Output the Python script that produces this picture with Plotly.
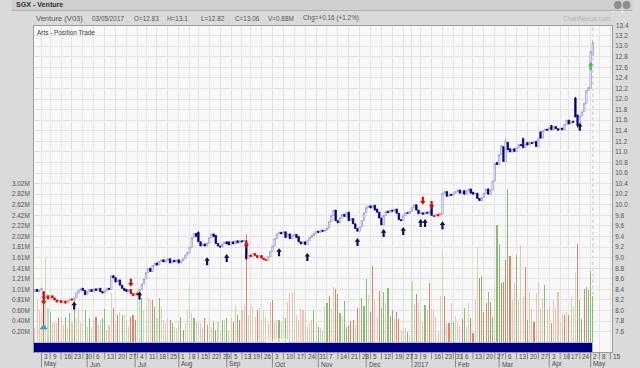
import plotly.graph_objects as go
import pandas as pd

# ---------------- data ----------------
holidays = ["2016-05-02", "2016-07-06", "2016-08-09", "2016-09-12", "2016-12-26",
            "2017-01-02", "2017-01-30", "2017-04-14", "2017-05-01"]

opens = [
    8.36, 8.40, 8.36, 8.39, 8.36, 8.24, 8.28, 8.22, 8.28, 8.24,
    8.20, 8.16, 8.19, 8.15, 8.18, 8.14, 8.19, 8.22, 8.20, 8.24,
    8.33, 8.38, 8.42, 8.38, 8.30, 8.36, 8.40, 8.36, 8.41, 8.38,
    8.42, 8.36, 8.33, 8.38, 8.42, 8.40, 8.66, 8.62, 8.54, 8.58,
    8.48, 8.42, 8.40, 8.36, 8.40, 8.32, 8.28, 8.33, 8.30, 8.40,
    8.50, 8.60, 8.72, 8.80, 8.74, 8.85, 8.90, 8.86, 8.93, 8.96,
    8.92, 8.95, 8.98, 8.90, 8.95, 8.92, 8.96, 8.90, 8.94, 8.98,
    9.05, 9.10, 9.20, 9.38, 9.46, 9.48, 9.30, 9.22, 9.26, 9.22,
    9.28, 9.38, 9.45, 9.42, 9.27, 9.22, 9.20, 9.26, 9.30, 9.30,
    9.24, 9.30, 9.26, 9.32, 9.28, 9.32, 9.30, 9.28, 8.98, 9.05,
    9.02, 9.08, 9.04, 9.00, 9.04, 8.99, 8.96, 8.95, 9.02, 9.12,
    9.22, 9.36, 9.45, 9.48, 9.45, 9.49, 9.40, 9.45, 9.36, 9.42,
    9.44, 9.40, 9.30, 9.26, 9.30, 9.25, 9.32, 9.38, 9.42, 9.46,
    9.50, 9.48, 9.52, 9.50, 9.52, 9.56, 9.68, 9.80, 9.90, 9.70,
    9.66, 9.76, 9.82, 9.78, 9.86, 9.70, 9.74, 9.64, 9.55, 9.50,
    9.58, 9.70, 9.85, 9.95, 9.98, 9.94, 9.99, 9.92, 9.86, 9.75,
    9.62, 9.80, 9.88, 9.85, 9.90, 9.88, 9.92, 9.84, 9.72, 9.70,
    9.80, 9.85, 9.84, 9.88, 9.95, 10.00, 9.90, 9.83, 9.85, 9.82,
    9.86, 9.84, 10.00, 9.80, 9.78, 9.82, 9.79, 9.82, 10.22, 10.25,
    10.16, 10.20, 10.18, 10.22, 10.25, 10.28, 10.22, 10.27, 10.20, 10.26,
    10.30, 10.24, 10.20, 10.22, 10.12, 10.08, 10.14, 10.22, 10.30, 10.20,
    10.28, 10.45, 10.80, 10.76, 10.95, 11.10, 10.82, 11.18, 11.06, 11.00,
    11.06, 11.01, 11.08, 11.14, 11.25, 11.08, 11.18, 11.13, 11.18, 11.16,
    11.20, 11.10, 11.38, 11.26, 11.40, 11.43, 11.41, 11.50, 11.42, 11.48,
    11.44, 11.41, 11.45, 11.42, 11.52, 11.60, 11.53, 11.58, 12.02, 11.70,
    11.50, 11.68, 11.76, 11.92, 12.16, 12.20, 12.83,
]
closes = [
    8.40, 8.36, 8.39, 8.42, 8.24, 8.28, 8.22, 8.28, 8.24, 8.20,
    8.16, 8.19, 8.15, 8.18, 8.14, 8.19, 8.22, 8.20, 8.24, 8.33,
    8.38, 8.42, 8.38, 8.30, 8.36, 8.40, 8.36, 8.41, 8.38, 8.42,
    8.36, 8.33, 8.38, 8.42, 8.40, 8.66, 8.62, 8.54, 8.58, 8.48,
    8.42, 8.38, 8.36, 8.40, 8.32, 8.28, 8.33, 8.30, 8.40, 8.50,
    8.60, 8.72, 8.80, 8.74, 8.85, 8.90, 8.86, 8.93, 8.96, 8.92,
    8.95, 8.98, 8.90, 8.95, 8.92, 8.96, 8.90, 8.94, 8.98, 9.05,
    9.10, 9.20, 9.38, 9.46, 9.40, 9.30, 9.22, 9.26, 9.22, 9.28,
    9.38, 9.45, 9.40, 9.27, 9.22, 9.20, 9.26, 9.30, 9.26, 9.24,
    9.30, 9.26, 9.32, 9.28, 9.32, 9.30, 9.33, 8.98, 9.05, 9.02,
    9.08, 9.04, 9.00, 9.04, 8.99, 8.96, 8.95, 9.02, 9.12, 9.22,
    9.36, 9.45, 9.48, 9.45, 9.49, 9.38, 9.45, 9.36, 9.42, 9.44,
    9.38, 9.30, 9.26, 9.30, 9.25, 9.32, 9.38, 9.42, 9.46, 9.50,
    9.48, 9.52, 9.50, 9.52, 9.56, 9.68, 9.80, 9.90, 9.70, 9.66,
    9.76, 9.82, 9.78, 9.86, 9.70, 9.74, 9.64, 9.55, 9.50, 9.58,
    9.70, 9.85, 9.95, 9.98, 9.94, 9.99, 9.90, 9.86, 9.75, 9.62,
    9.80, 9.88, 9.85, 9.90, 9.88, 9.92, 9.84, 9.72, 9.70, 9.80,
    9.85, 9.84, 9.88, 9.95, 10.00, 9.90, 9.83, 9.85, 9.82, 9.86,
    9.84, 9.87, 9.80, 9.78, 9.82, 9.79, 9.84, 10.22, 10.25, 10.16,
    10.20, 10.18, 10.22, 10.25, 10.28, 10.22, 10.25, 10.20, 10.26, 10.30,
    10.22, 10.20, 10.22, 10.12, 10.08, 10.14, 10.22, 10.30, 10.20, 10.28,
    10.45, 10.78, 10.76, 10.95, 11.12, 10.82, 11.20, 11.04, 11.00, 11.05,
    11.01, 11.08, 11.14, 11.12, 11.08, 11.15, 11.13, 11.18, 11.16, 11.20,
    11.10, 11.25, 11.26, 11.40, 11.43, 11.41, 11.46, 11.42, 11.48, 11.44,
    11.41, 11.45, 11.42, 11.52, 11.60, 11.53, 11.58, 11.56, 11.66, 11.50,
    11.68, 11.76, 11.92, 12.16, 12.22, 12.90, 13.06,
]
wick_high = {75: 9.50, 97: 9.30, 216: 11.26, 224: 11.27, 248: 12.04, 256: 13.10}
wick_low = {4: 7.72, 97: 8.96, 249: 11.46, 256: 12.82}

volumes = [  # millions
    0.27, 0.81, 0.62, 0.55, 0.77, 1.60, 0.65, 0.58, 0.36, 0.39,
    0.36, 0.46, 0.49, 0.33, 0.48, 0.27, 0.55, 0.36, 0.81, 0.46,
    0.65, 0.36, 0.36, 0.62, 0.30, 0.46, 0.30, 0.42, 0.49, 0.33,
    0.42, 0.46, 0.63, 0.23, 0.33, 0.94, 0.66, 0.36, 0.52, 0.58,
    0.52, 0.52, 0.42, 0.30, 0.49, 0.52, 0.42, 1.03, 0.96, 0.84,
    0.62, 0.68, 0.84, 0.81, 0.81, 0.68, 0.46, 0.84, 0.68, 0.42,
    0.36, 0.46, 0.42, 0.36, 0.30, 0.27, 0.39, 0.49, 0.23, 0.36,
    0.62, 1.06, 0.55, 0.46, 0.39, 0.39, 0.36, 0.30, 0.46, 0.33,
    0.46, 0.30, 0.39, 0.23, 0.39, 0.20, 0.42, 0.42, 0.46, 0.23,
    0.46, 0.39, 0.71, 0.52, 0.42, 0.62, 0.71, 2.07, 0.52, 0.71,
    0.68, 0.49, 0.62, 0.65, 0.42, 0.62, 0.49, 0.36, 0.77, 0.81,
    0.39, 0.42, 0.42, 0.39, 0.52, 0.46, 0.77, 0.93, 0.96, 0.99,
    0.52, 0.42, 0.65, 0.62, 0.55, 0.30, 0.36, 0.42, 0.62, 0.36,
    0.30, 0.27, 0.23, 0.69, 0.75, 0.88, 0.63, 1.05, 1.01, 0.92,
    0.56, 0.50, 0.79, 0.30, 0.31, 0.41, 0.42, 0.33, 0.66, 0.65,
    0.84, 0.69, 1.20, 0.90, 0.58, 1.45, 0.81, 0.48, 0.98, 0.66,
    0.96, 0.74, 1.03, 0.50, 0.62, 0.44, 0.58, 0.44, 0.23, 0.28,
    0.28, 0.20, 0.14, 1.17, 0.73, 0.92, 0.74, 0.56, 0.39, 0.71,
    0.62, 1.13, 0.63, 0.62, 0.49, 0.22, 0.88, 1.74, 0.89, 0.37,
    0.37, 0.75, 0.39, 0.50, 0.37, 0.31, 0.44, 0.65, 0.30, 0.75,
    0.46, 0.18, 0.81, 1.79, 1.22, 1.26, 0.58, 0.75, 0.96, 0.77,
    0.48, 1.07, 2.23, 1.88, 1.13, 1.15, 1.57, 2.92, 1.64, 0.81,
    1.12, 1.66, 0.81, 1.85, 0.87, 1.44, 0.42, 0.96, 0.65, 0.39,
    0.93, 1.15, 0.65, 0.84, 1.09, 0.62, 0.68, 0.37, 0.81, 0.65,
    0.96, 0.39, 0.55, 0.52, 0.58, 0.52, 0.87, 0.68, 1.33, 1.87,
    0.81, 0.44, 1.01, 1.06, 1.00, 1.35, 0.88,
]
# G/g = up day (dark/pale green), R/r = down day (dark/pale red)
volume_shade = (
    "rrrrRggGrr" "rRrrGrGrGg" "rrgGrGgrRr" "gGGrrgRrRg" "GgrrRRRggG"
    "ggrgRGgGrg" "rrRGggrGRg" "ggrGrgrrRG" "grGRggGgGr" "rRgGRrr" "R"
    "grgrRrrgrr" "rRrrGggGrr" "rgrrrrrrgrGrGg" "ggGRggRRGg" "GGRRRrRrGG"
    "GgRRrrRGGr" "GGRrRRrrrG" "ggrRrgrGrR" "rrrrrgRrRr" "GgrrRGrgRR"
    "rgRGRRGRGg" "GGRRRGRrrG" "rrrRGrrRgr" "rgGrrGrrrg" "rRgRrggR"
    "GGRGGGG"
)

signal_red_periods = [(4, 18), (44, 47), (98, 107), (183, 186)]
buy_idx = [18, 48, 79, 88, 112, 125, 148, 160, 169, 177, 179, 187, 250]
buy_level = [8.17, 8.36, 9.01, 9.07, 9.18, 9.09, 9.37, 9.54, 9.58, 9.73, 9.73, 9.69, 11.55]
sell_idx = [4, 44, 97, 178, 182]
sell_level = [8.11, 8.45, 9.18, 10.00, 9.92]
strong_buy_idx, strong_buy_level = [255], [12.70]
bell_idx, bell_level = [4], [7.68]

vol_ticktext = ["0.20M", "0.40M", "0.60M", "0.81M", "1.01M", "1.21M", "1.41M", "1.61M",
                "1.81M", "2.02M", "2.22M", "2.42M", "2.62M", "2.82M", "3.02M"]
month_names = {1: "2017", 2: "Feb", 3: "Mar", 4: "Apr", 5: "May", 6: "Jun", 7: "Jul",
               8: "Aug", 9: "Sep", 10: "Oct", 11: "Nov", 12: "Dec"}

# ---------------- derived ----------------
n = len(closes)
assert len(opens) == n and len(volumes) == n and len(volume_shade) == n
dates = [d for d in pd.bdate_range("2016-04-27", "2017-05-15")
         if d.strftime("%Y-%m-%d") not in holidays]
highs = [wick_high.get(i, max(opens[i], closes[i])) for i in range(n)]
lows = [wick_low.get(i, min(opens[i], closes[i])) for i in range(n)]
red = set()
for a, b in signal_red_periods:
    red.update(range(a, b + 1))

FONT = "Liberation Sans, Arial, sans-serif"
W, H = 640, 368
L, R, T, B = 23, 21, 26, 16
PW, PH = W - L - R, H - T - B


def px(X):
    return (X - L) / PW


def py(Y):
    return (H - B - Y) / PH


fig = go.Figure()

shade_col = {"G": "#8cba78", "g": "#c6dbba", "R": "#d8876a", "r": "#ebc3b3"}
fig.add_trace(go.Bar(
    x=list(range(n)), y=volumes, width=0.5, yaxis="y",
    marker=dict(color=[shade_col[c] for c in volume_shade], line=dict(width=0)),
    hoverinfo="skip", showlegend=False))


def candles(idx, up_line, down_fill):
    return go.Candlestick(
        x=idx, open=[opens[i] for i in idx], high=[highs[i] for i in idx],
        low=[lows[i] for i in idx], close=[closes[i] for i in idx], yaxis="y2",
        increasing=dict(line=dict(color=up_line, width=0.7), fillcolor="#ffffff"),
        decreasing=dict(line=dict(color=down_fill, width=0.8), fillcolor=down_fill),
        whiskerwidth=0, hoverinfo="skip", showlegend=False)


fig.add_trace(candles([i for i in range(n) if i not in red], "#8e8ecc", "#000080"))
fig.add_trace(candles([i for i in range(n) if i in red], "#e88080", "#d40000"))

fig.add_trace(go.Scatter(x=bell_idx, y=bell_level, yaxis="y2", mode="markers",
                         marker=dict(symbol="triangle-up", size=6, color="#3fa2d6",
                                     line=dict(color="#2a7fb0", width=0.5)),
                         hoverinfo="skip", showlegend=False))

ann = []
shapes = []

# signal arrows: block arrows drawn in pixel units, tip anchored at the signal level
UP_PATH = "M0,0 L2.7,-3.7 L1.1,-3.7 L1.1,-8 L-1.1,-8 L-1.1,-3.7 L-2.7,-3.7 Z"
DOWN_PATH = "M0,0 L2.7,3.7 L1.1,3.7 L1.1,8 L-1.1,8 L-1.1,3.7 L-2.7,3.7 Z"


def arrow(i, lv, path, color):
    return dict(type="path", xref="x", yref="y2", xsizemode="pixel", ysizemode="pixel",
                xanchor=i, yanchor=lv, path=path, fillcolor=color,
                line=dict(width=0), layer="above")


for i, lv in zip(buy_idx, buy_level):
    shapes.append(arrow(i, lv, UP_PATH, "#10104a"))
for i, lv in zip(sell_idx, sell_level):
    shapes.append(arrow(i, lv, DOWN_PATH, "#d01010"))
for i, lv in zip(strong_buy_idx, strong_buy_level):
    shapes.append(arrow(i, lv, UP_PATH, "#4cc040"))

# date axis
week_ticks, month_ticks = [], []
for i in range(3, len(dates)):
    if dates[i].isocalendar()[1] != dates[i - 1].isocalendar()[1]:
        week_ticks.append(i)
    if dates[i].month != dates[i - 1].month or i == 3:
        month_ticks.append(i)
for i in week_ticks:
    shapes.append(dict(type="line", xref="x", yref="paper", x0=i, x1=i, y0=py(352), y1=py(359.5),
                       line=dict(color="#8c8c8c", width=1)))
    ann.append(dict(x=i, y=py(356.2), xref="x", yref="paper", text=str(dates[i].day), showarrow=False,
                    xanchor="left", yanchor="middle", xshift=0.5,
                    font=dict(family=FONT, size=6.4, color="#4a4a4a")))
for i in month_ticks:
    shapes.append(dict(type="line", xref="x", yref="paper", x0=i, x1=i, y0=py(352), y1=py(367.5),
                       line=dict(color="#8c8c8c", width=1)))
    ann.append(dict(x=i, y=py(364), xref="x", yref="paper", text=month_names[dates[i].month],
                    showarrow=False, xanchor="left", yanchor="middle", xshift=0.5,
                    font=dict(family=FONT, size=6.4, color="#4a4a4a")))

# bullish band
shapes.append(dict(type="rect", xref="paper", yref="paper", x0=0, x1=px(598.7), y0=0, y1=py(342.7),
                   fillcolor="#000080", line=dict(width=0), layer="above"))
ann.append(dict(x=px(274), y=py(347.4), xref="paper", yref="paper", text="Bullish", showarrow=False,
                font=dict(family=FONT, size=7.5, color="#ffffff")))
# last-day marker
shapes.append(dict(type="line", xref="x", yref="paper", x0=n - 1, x1=n - 1, y0=py(342.7), y1=1,
                   line=dict(color="#c4c4c4", width=1, dash="dot"), layer="below"))
# title bar
shapes.append(dict(type="rect", xref="paper", yref="paper", x0=px(0), x1=px(640), y0=py(10), y1=py(0),
                   fillcolor="#cfcfcf", line=dict(width=0)))
shapes.append(dict(type="line", xref="paper", yref="paper", x0=px(0), x1=px(640), y0=py(10.5), y1=py(10.5),
                   line=dict(color="#b0b0b0", width=1)))
for cx, sym in [(625, "−"), (634, "+")]:
    shapes.append(dict(type="circle", xref="paper", yref="paper", x0=px(cx - 4), x1=px(cx + 4),
                       y0=py(9), y1=py(1), fillcolor="#8e8e8e", line=dict(width=0)))
    ann.append(dict(x=px(cx), y=py(5), xref="paper", yref="paper", text=sym, showarrow=False,
                    font=dict(family=FONT, size=8, color="#ffffff")))

ann.append(dict(x=px(2), y=py(5), xref="paper", yref="paper", text="<b>SGX - Venture</b>", showarrow=False,
                xanchor="left", yanchor="middle", font=dict(family=FONT, size=7.1, color="#303030")))
header = [(22.7, "Venture (V03)", 7.6), (81, "03/05/2017", 6.4), (124, "O=12.83", 6.4),
          (158, "H=13.1", 6.4), (193, "L=12.82", 6.4), (228, "C=13.06", 6.4),
          (262, "V=0.88M", 6.4), (298, "Chg=+0.16 (+1.2%)", 6.4)]
for X, txt, sz in header:
    ann.append(dict(x=px(X), y=py(18.3), xref="paper", yref="paper", text=txt, showarrow=False,
                    xanchor="left", yanchor="middle", font=dict(family=FONT, size=sz, color="#555555")))
ann.append(dict(x=px(620), y=py(18.3), xref="paper", yref="paper", text="ChartNexus.com", showarrow=False,
                xanchor="right", yanchor="middle", font=dict(family=FONT, size=6.4, color="#b4b4b4")))
ann.append(dict(x=px(24), y=py(32), xref="paper", yref="paper", text="Arts - Position Trade", showarrow=False,
                xanchor="left", yanchor="middle", font=dict(family=FONT, size=6.4, color="#404040")))
# top price label sits on the frame edge, just outside the axis range
ann.append(dict(x=1, y=py(25.3), xref="paper", yref="paper", text="13.4", showarrow=False,
                xanchor="left", yanchor="middle", xshift=1.5,
                font=dict(family=FONT, size=6.4, color="#555555")))

# axis scales
dx = (597 - 30.7) / 252
x0 = 30.7 - 3 * dx
xr = [(L - x0) / dx, (W - R - x0) / dx]
ppu = 52.88                       # px per price unit
pr = [13.4 - (H - B - 25) / ppu, 13.4 - (T - 25) / ppu]
vpp = 0.2014 / (0.2 * ppu)        # volume (M) per px
vr = [-(H - B - 342.3) * vpp, (342.3 - T) * vpp]

fig.update_layout(
    width=W, height=H, autosize=False,
    margin=dict(l=L, r=R, t=T, b=B, pad=0),
    paper_bgcolor="#dadada", plot_bgcolor="#f8f8f8",
    font=dict(family=FONT, size=6.4, color="#555555"),
    showlegend=False, bargap=0, barmode="overlay", boxgap=0.05,
    xaxis=dict(range=xr, tickvals=week_ticks, showticklabels=False, ticks="",
               showgrid=True, gridcolor="#e4e4e4", gridwidth=1, zeroline=False,
               showline=True, mirror=True, linecolor="#9c9c9c", linewidth=1,
               rangeslider=dict(visible=False), fixedrange=True),
    yaxis=dict(range=vr, side="left", tickvals=[0.2014 * k for k in range(1, 16)],
               ticktext=vol_ticktext, showgrid=False, zeroline=False, ticks="",
               ticklabelstandoff=2, tickfont=dict(size=6.4, color="#555555"),
               showline=True, linecolor="#9c9c9c", linewidth=1),
    yaxis2=dict(range=pr, side="right", overlaying="y", tickvals=[round(7.6 + 0.2 * k, 1) for k in range(30)],
                tickformat=".1f", showgrid=True, gridcolor="#e4e4e4", gridwidth=1, zeroline=False,
                ticks="", ticklabelstandoff=1, tickfont=dict(size=6.4, color="#555555"),
                showline=True, linecolor="#9c9c9c", linewidth=1),
    shapes=shapes, annotations=ann,
)

fig.write_html("out.html", config={"displayModeBar": False, "staticPlot": True})
